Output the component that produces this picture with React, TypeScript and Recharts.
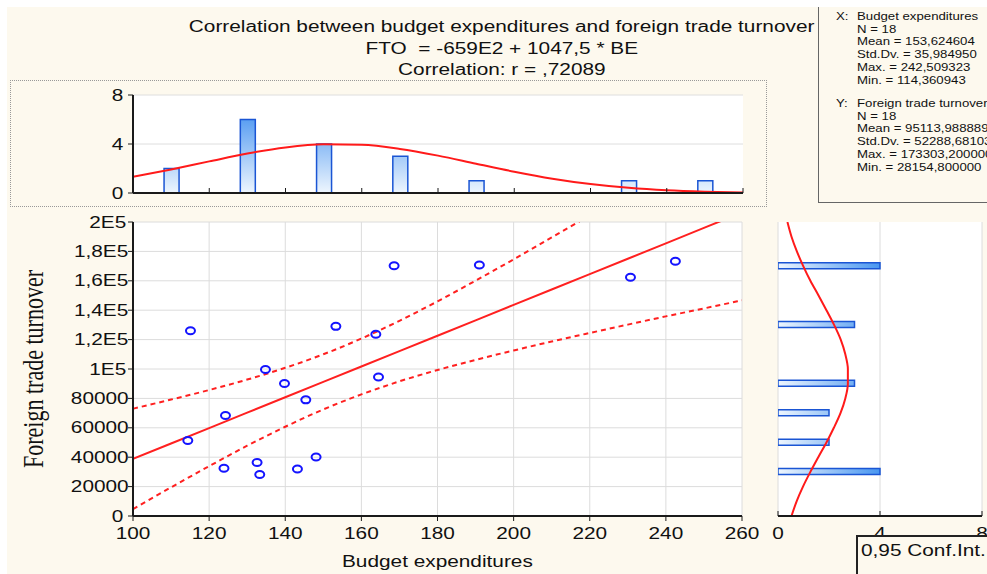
import React from 'react';
import { ComposedChart, Bar, Line, Scatter, XAxis, YAxis, CartesianGrid } from 'recharts';

// scatter points: budget expenditures vs foreign trade turnover
const budgetExp = [115.1, 114.4, 124.3, 123.9, 134.8, 139.8, 145.4, 132.6, 133.3, 143.2, 148.1, 153.3, 163.8, 164.5, 168.6, 191.0, 230.7, 242.5];
const tradeTurnover = [126000, 51400, 68400, 32500, 99700, 90200, 79000, 36400, 28200, 32000, 40200, 129000, 123700, 94500, 170300, 170700, 162400, 173300];

// regression line and 0,95 confidence band
const bandX = [100, 110, 120, 130, 140, 150, 160, 170, 180, 190, 200, 210, 220, 230, 240, 250, 260];
const fitValues = [38850, 49300, 59800, 70300, 80750, 91200, 101700, 112200, 122650, 133100, 143600, 154100, 164550, 175000, 185500, 196000, 206450];
const upperValues = [73000, 79200, 85700, 92800, 100800, 110000, 120700, 132800, 146000, 160100, 174600, 189500, 204600, 219900, 235200, 250700, 266200];
const lowerValues = [4700, 19500, 33900, 47800, 60700, 72500, 82700, 91600, 99300, 106200, 112600, 118700, 124500, 130200, 135800, 141200, 146700];

// histogram of X (top)
const xBins = [110, 130, 150, 170, 190, 230, 250];
const xCounts = [2, 6, 4, 3, 1, 1, 1];
const xCurveX = [100, 110, 120, 130, 140, 150, 160, 170, 180, 190, 200, 210, 220, 230, 240, 250, 260];
const xCurveN = [1.32, 1.92, 2.58, 3.22, 3.72, 3.97, 3.93, 3.6, 3.05, 2.39, 1.74, 1.17, 0.73, 0.42, 0.22, 0.11, 0.05];

// histogram of Y (right)
const yBins = [30000, 50000, 70000, 90000, 130000, 170000];
const yCounts = [4, 2, 2, 3, 3, 4];
const yCurveY = [0, 10000, 20000, 30000, 40000, 50000, 60000, 70000, 80000, 90000, 100000, 110000, 120000, 130000, 140000, 150000, 160000, 170000, 180000, 190000, 200000];
const yCurveN = [0.53, 0.73, 0.98, 1.27, 1.58, 1.9, 2.19, 2.45, 2.64, 2.74, 2.74, 2.64, 2.46, 2.2, 1.9, 1.59, 1.27, 0.99, 0.74, 0.53, 0.37];

const xTicks = [100, 120, 140, 160, 180, 200, 220, 240, 260];
const yTicks = [0, 20000, 40000, 60000, 80000, 100000, 120000, 140000, 160000, 180000, 200000];
const yTickLabels = ['0', '20000', '40000', '60000', '80000', '1E5', '1,2E5', '1,4E5', '1,6E5', '1,8E5', '2E5'];
const countTicks = [0, 4, 8];

const titleLines = [
  'Correlation between budget expenditures and foreign trade turnover',
  'FTO  = -659E2 + 1047,5 * BE',
  'Correlation: r = ,72089',
];
const statsX = ['Budget expenditures', 'N = 18', 'Mean = 153,624604', 'Std.Dv. = 35,984950', 'Max. = 242,509323', 'Min. = 114,360943'];
const statsY = ['Foreign trade turnover', 'N = 18', 'Mean = 95113,988889', 'Std.Dv. = 52288,681034', 'Max. = 173303,200000', 'Min. = 28154,800000'];

const scatterData = budgetExp.map((x, i) => ({ x, y: tradeTurnover[i] }));
const bandData = bandX.map((x, i) => ({ x, fit: fitValues[i], upper: upperValues[i], lower: lowerValues[i] }));
const xHist = xBins.map((x, i) => ({ x, n: xCounts[i] }));
const xCurve = xCurveX.map((x, i) => ({ x, fit: xCurveN[i] }));
const yHist = yBins.map((y, i) => ({ y, n: yCounts[i] }));
const yCurve = yCurveY.map((y, i) => ({ y, fit: yCurveN[i] }));

const minorX = Array.from({ length: 41 }, (_, i) => 100 + i * 4);
const minorY = Array.from({ length: 21 }, (_, i) => i * 10000);

const FONT = '"Liberation Sans", Arial, sans-serif';
const CREAM = '#fdf9ee';
const tickStyle = { fontSize: 16, fill: '#111', fontFamily: FONT };
const axisLine = { stroke: '#1a1a1a', strokeWidth: 2 };
const tickLine = { stroke: '#1a1a1a' };
const blank = () => '';

const css = `
body { margin: 0; }
.stretch text.recharts-cartesian-axis-tick-value { transform-box: fill-box; transform-origin: center; transform: scaleX(1.3); }
.stretch .recharts-yAxis text.recharts-cartesian-axis-tick-value { transform-origin: right center; }
`;

function Ring(props: any) {
  const { cx, cy } = props;
  if (cx == null || cy == null) return null;
  return <ellipse cx={cx} cy={cy} rx={4.5} ry={3.5} fill="none" stroke="#1414ff" strokeWidth={2} />;
}

function Stretched({ children, origin = 'center', k = 1.3 }: any) {
  return (
    <span style={{ display: 'inline-block', transform: `scaleX(${k})`, transformOrigin: origin }}>{children}</span>
  );
}

function TopHistogram() {
  return (
    <ComposedChart width={767} height={128} data={xHist} margin={{ top: 15, right: 24, bottom: 0, left: 0 }}>
      <defs>
        <linearGradient id="topGrad" gradientUnits="userSpaceOnUse" x1="0" y1="15" x2="0" y2="113">
          <stop offset="0" stopColor="#2a82ee" />
          <stop offset="1" stopColor="#eef6fe" />
        </linearGradient>
      </defs>
      <CartesianGrid vertical={false} fill="#fff" stroke="#dedede" />
      <XAxis dataKey="x" type="number" domain={[100, 260]} ticks={xTicks} allowDataOverflow height={15}
        tickFormatter={blank} tickSize={-5} axisLine={axisLine} tickLine={tickLine} />
      <XAxis xAxisId="top" orientation="top" mirror type="number" domain={[100, 260]} ticks={xTicks} allowDataOverflow
        height={0} tickFormatter={blank} tickSize={5} axisLine={axisLine} tickLine={tickLine} />
      <YAxis type="number" domain={[0, 8]} ticks={countTicks} allowDataOverflow width={133}
        tick={tickStyle} tickSize={5} tickMargin={6} axisLine={axisLine} tickLine={tickLine} />
      <YAxis yAxisId="right" orientation="right" mirror type="number" domain={[0, 8]} ticks={countTicks} allowDataOverflow
        width={0} tickFormatter={blank} tickSize={5} axisLine={axisLine} tickLine={tickLine} />
      <Bar dataKey="n" barSize={15} fill="url(#topGrad)" stroke="#1a55d4" strokeWidth={1.5} isAnimationActive={false} />
      <Line data={xCurve} dataKey="fit" type="monotone" stroke="#ff1a1a" strokeWidth={2} dot={false} isAnimationActive={false} />
    </ComposedChart>
  );
}

function MainScatter() {
  return (
    <ComposedChart width={760} height={374} margin={{ top: 22, right: 18, bottom: 0, left: 0 }}>
      <CartesianGrid fill="#fff" stroke="#dcdcdc" />
      <XAxis dataKey="x" type="number" domain={[100, 260]} ticks={xTicks} allowDataOverflow height={58}
        tick={tickStyle} tickSize={5} tickMargin={7} axisLine={axisLine} tickLine={tickLine} />
      <XAxis xAxisId="top" orientation="top" mirror type="number" domain={[100, 260]} ticks={minorX} allowDataOverflow
        height={0} tickFormatter={blank} tickSize={4} axisLine={axisLine} tickLine={tickLine} />
      <YAxis type="number" domain={[0, 200000]} ticks={yTicks} allowDataOverflow width={133}
        tick={tickStyle} tickFormatter={(v: number) => yTickLabels[yTicks.indexOf(v)] ?? ''}
        tickSize={5} tickMargin={6} axisLine={axisLine} tickLine={tickLine} />
      <YAxis yAxisId="right" orientation="right" mirror type="number" domain={[0, 200000]} ticks={minorY} allowDataOverflow
        width={0} tickFormatter={blank} tickSize={4} axisLine={axisLine} tickLine={tickLine} />
      <Line data={bandData} dataKey="upper" type="monotone" stroke="#ff2020" strokeWidth={2} strokeDasharray="5 4" dot={false} isAnimationActive={false} />
      <Line data={bandData} dataKey="lower" type="monotone" stroke="#ff2020" strokeWidth={2} strokeDasharray="5 4" dot={false} isAnimationActive={false} />
      <Line data={bandData} dataKey="fit" type="linear" stroke="#ff2020" strokeWidth={2} dot={false} isAnimationActive={false} />
      <Scatter data={scatterData} dataKey="y" shape={<Ring />} isAnimationActive={false} />
    </ComposedChart>
  );
}

function RightHistogram() {
  // vertical layout: the numeric Y axis runs top-down by default, so reverse it
  return (
    <ComposedChart layout="vertical" width={227} height={374} data={yHist} margin={{ top: 22, right: 5, bottom: 0, left: 18 }}>
      <defs>
        <linearGradient id="rightGrad" gradientUnits="userSpaceOnUse" x1="18" y1="0" x2="120" y2="0">
          <stop offset="0" stopColor="#eef6fe" />
          <stop offset="1" stopColor="#4896f0" />
        </linearGradient>
      </defs>
      <CartesianGrid horizontal={false} fill="#fff" stroke="#dcdcdc" />
      <XAxis type="number" domain={[0, 8]} ticks={countTicks} allowDataOverflow height={58}
        tick={tickStyle} tickSize={-5} tickMargin={17} axisLine={axisLine} tickLine={tickLine} />
      <XAxis xAxisId="top" orientation="top" mirror type="number" domain={[0, 8]} ticks={countTicks} allowDataOverflow
        height={0} tickFormatter={blank} tickSize={5} axisLine={axisLine} tickLine={tickLine} />
      <YAxis dataKey="y" type="number" reversed domain={[0, 200000]} ticks={yTicks} allowDataOverflow width={0} mirror
        tickFormatter={blank} tickSize={5} axisLine={axisLine} tickLine={tickLine} />
      <YAxis yAxisId="right" orientation="right" mirror type="number" reversed domain={[0, 200000]} ticks={yTicks} allowDataOverflow
        width={0} tickFormatter={blank} tickSize={5} axisLine={axisLine} tickLine={tickLine} />
      <Bar dataKey="n" barSize={6} fill="url(#rightGrad)" stroke="#1a55d4" strokeWidth={1.5} isAnimationActive={false} />
      <Line data={yCurve} dataKey="fit" type="monotone" stroke="#ff1a1a" strokeWidth={2} dot={false} isAnimationActive={false} />
    </ComposedChart>
  );
}

export default function App() {
  const statLine = (text: string, left: number, top: number) => (
    <div key={`${left}-${top}`} style={{ position: 'absolute', left, top, whiteSpace: 'nowrap', lineHeight: '12.7px' }}>
      <Stretched origin="left" k={1.2}>{text}</Stretched>
    </div>
  );

  return (
    <div className="stretch" style={{ position: 'relative', width: 987, height: 574, overflow: 'hidden', background: '#fff', fontFamily: FONT, color: '#111' }}>
      <style>{css}</style>
      <div style={{ position: 'absolute', left: 7, top: 7, width: 980, height: 567, background: CREAM }} />

      {/* title */}
      <div style={{ position: 'absolute', left: 0, width: 1003, top: 16, textAlign: 'center', fontSize: 16, lineHeight: '21.5px', whiteSpace: 'pre' }}>
        {titleLines.map((t) => (
          <div key={t}><Stretched>{t}</Stretched></div>
        ))}
      </div>

      {/* descriptive statistics */}
      <div style={{ position: 'absolute', left: 818, top: 7, width: 180, height: 195, borderLeft: '1.5px solid #666', borderBottom: '1.5px solid #666', fontSize: 11 }}>
        <div style={{ position: 'relative', left: -818, top: -7 }}>
          {statLine('X:', 835, 10)}
          {statsX.map((t, i) => statLine(t, 856, 10 + i * 12.7))}
          {statLine('Y:', 835, 97)}
          {statsY.map((t, i) => statLine(t, 856, 97 + i * 12.7))}
        </div>
      </div>

      {/* histogram of budget expenditures */}
      <div style={{ position: 'absolute', left: 10, top: 80, width: 757, height: 127, border: '1px dotted #999', boxSizing: 'border-box' }} />
      <div style={{ position: 'absolute', left: 0, top: 80 }}>
        <TopHistogram />
      </div>

      {/* scatterplot */}
      <div style={{ position: 'absolute', left: 0, top: 200 }}>
        <MainScatter />
      </div>

      {/* histogram of foreign trade turnover */}
      <div style={{ position: 'absolute', left: 760, top: 200 }}>
        <RightHistogram />
      </div>

      <div style={{ position: 'absolute', left: 0, width: 875, top: 552, textAlign: 'center', fontSize: 16, lineHeight: '19px' }}>
        <Stretched>Budget expenditures</Stretched>
      </div>
      <div style={{ position: 'absolute', left: 34, top: 369, width: 0, height: 0 }}>
        <span style={{
          position: 'absolute', whiteSpace: 'nowrap', fontFamily: '"Liberation Serif", "Times New Roman", serif', fontSize: 22,
          transform: 'translate(-50%, -50%) scaleX(1.3) rotate(-90deg)', transformOrigin: 'center', lineHeight: '24px',
        }}>
          Foreign trade turnover
        </span>
      </div>

      <div style={{ position: 'absolute', left: 856, top: 535, width: 140, height: 50, borderLeft: '2px solid #222', borderTop: '2px solid #222', background: CREAM, fontSize: 16, lineHeight: '19px' }}>
        <div style={{ position: 'absolute', left: 3, top: 4, whiteSpace: 'nowrap' }}>
          <Stretched origin="left">0,95 Conf.Int.</Stretched>
        </div>
      </div>
    </div>
  );
}
